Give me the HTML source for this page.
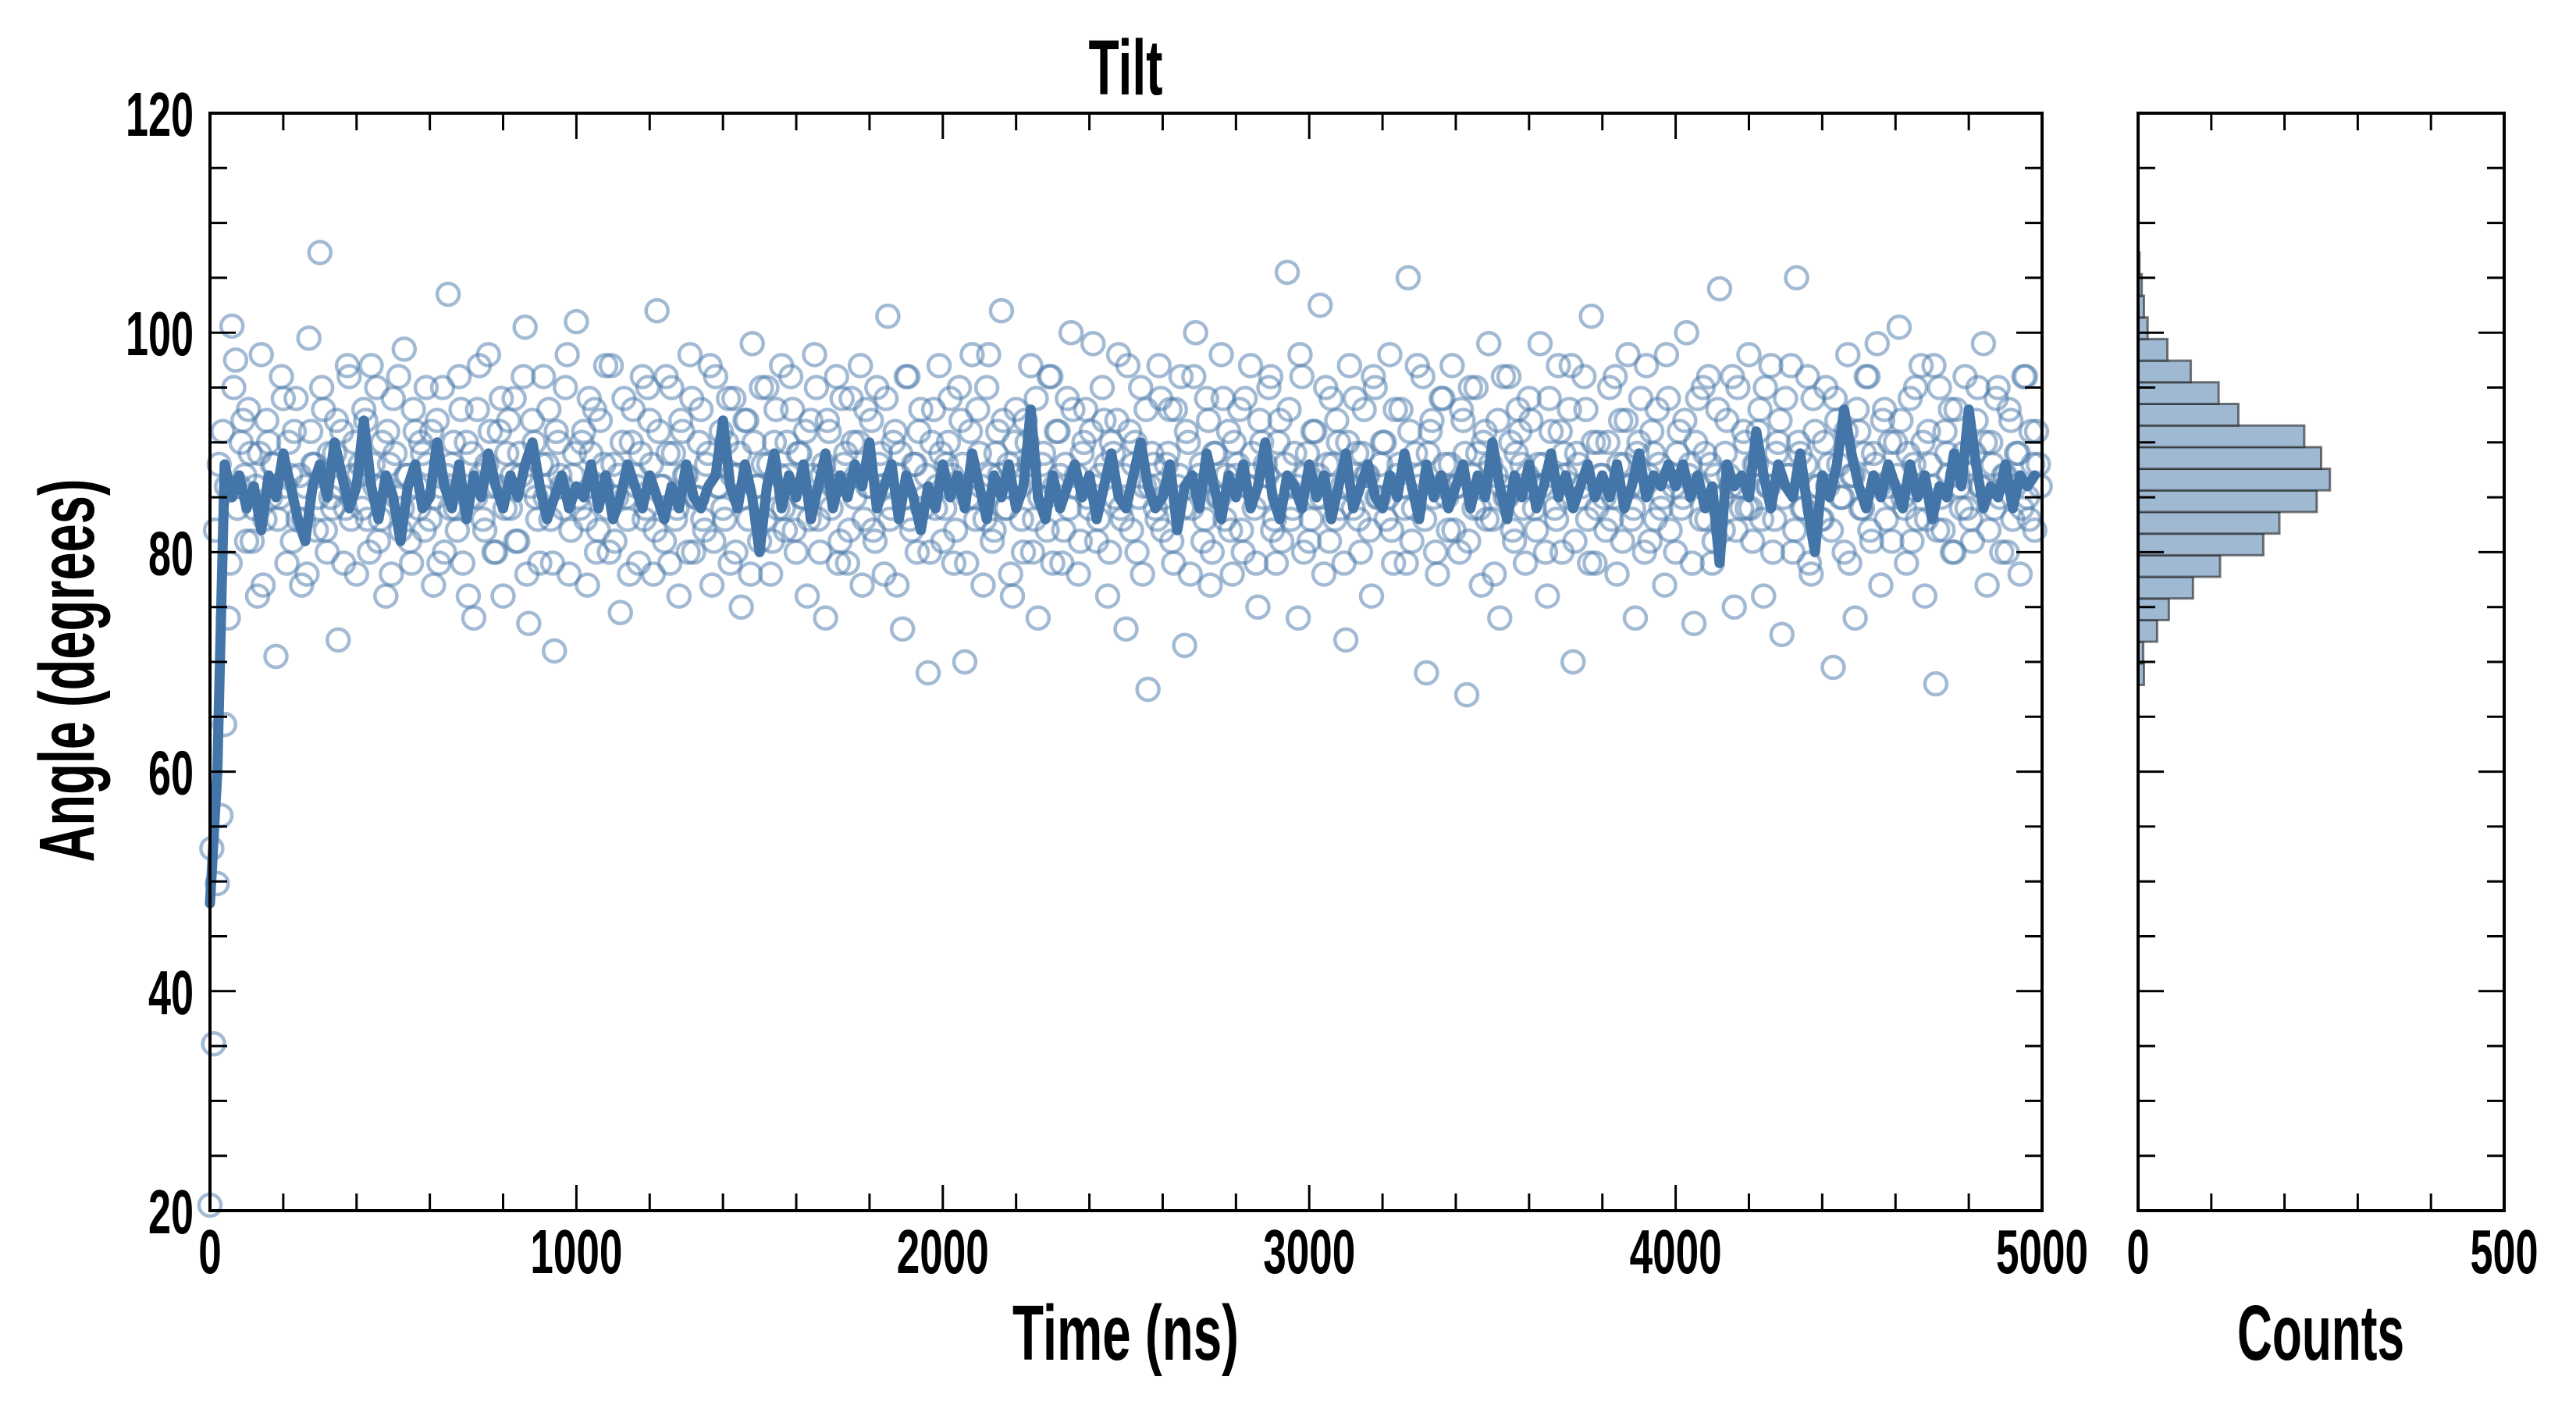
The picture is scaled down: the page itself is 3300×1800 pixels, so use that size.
<!DOCTYPE html>
<html><head><meta charset="utf-8"><style>
html,body{margin:0;padding:0;background:#fff;}
svg{display:block;}
text{font-family:"Liberation Sans Narrow","Liberation Sans",sans-serif;font-weight:bold;fill:#000;}
</style></head><body>
<svg id="chart" width="3300" height="1800" viewBox="0 0 3300 1800" xmlns="http://www.w3.org/2000/svg">
<rect x="0" y="0" width="3300" height="1800" fill="#fff"/>
<g id="scatter"></g>
<g id="line"></g>
<g id="hist"></g>
<g id="axes"></g>
<text x="1442" y="121" font-size="100" text-anchor="middle" textLength="95" lengthAdjust="spacingAndGlyphs">Tilt</text>
<text x="1442" y="1742" font-size="100" text-anchor="middle" textLength="290" lengthAdjust="spacingAndGlyphs">Time (ns)</text>
<text x="2973" y="1742" font-size="100" text-anchor="middle" textLength="214" lengthAdjust="spacingAndGlyphs">Counts</text>
<text x="0" y="0" font-size="100" text-anchor="middle" textLength="491" lengthAdjust="spacingAndGlyphs" transform="translate(120,859) rotate(-90)">Angle (degrees)</text>
</svg>
<script>
const scatterStep = 10;
const scatterValues = [
20.5,35.2,49.8,56,64.3,74,100.6,97.5,86,92,81,89,84,76,98,83,90,88,70.5,85,
94,79,87,91,83,77,86,99.5,88,82,107.3,93,80,85,89,72,91,84,96,87,
78,88,93,83,97,86,81,90,76,88,94,85,82,98.5,87,79,91,84,89,95,
83,77,92,86,80,103.5,88,84,96,79,90,85,74,93,87,82,98,86,80,91,
76,89,84,94,81,87,100.5,73.5,92,85,79,96,88,83,71,90,86,95,78,87,
101,84,91,77,89,93,82,86,97,80,88,85,74.5,94,83,90,87,79,96,84,
92,78,102,86,81,89,95,83,76,91,87,98,80,85,93,82,89,77,96,86,
84,90,79,94,87,75,92,83,99,86,81,88,95,78,90,84,97,82,87,93,
80,89,85,76,92,98,83,87,74,91,86,96,81,88,79,94,85,90,77,93,
86,82,95,89,78,101.5,84,91,87,73,96,83,88,80,93,85,69,90,84,97,
81,88,94,79,86,92,70,85,98,83,89,77,95,87,82,91,102,84,88,76,
93,86,80,90,97,83,74,88,85,96,79,91,87,82,94,100,86,78,89,93,
84,99,81,87,92,76,90,85,98,83,73,91,88,80,95,86,67.5,89,84,97,
82,88,93,79,86,96,71.5,90,84,100,87,81,94,77,89,85,98,83,91,78,
87,93,80,86,97,84,75,90,88,95,82,79,92,86,105.5,83,89,74,96,87,
81,91,85,102.5,78,88,94,83,90,86,72,97,84,89,80,93,87,76,95,85,
90,83,98,79,87,93,84,105,81,89,86,96,69,91,85,78,94,88,82,97,
86,80,92,67,95,84,89,77,91,99,83,87,74,96,85,90,81,93,88,79,
94,86,82,99,88,76,91,84,97,80,87,93,70,89,85,96,83,101.5,79,90,
87,82,95,85,78,92,88,98,83,74,90,86,97,81,89,93,84,77,94,87,
80,91,85,100,88,73.5,94,83,89,96,79,87,104,82,92,86,75,95,84,90,
98,81,88,93,76,86,97,83,90,72.5,94,87,80,105,89,84,96,78,91,86,
83,95,88,69.5,92,85,80,98,87,74,91,84,96,82,89,99,77,93,86,81,
90,100.5,85,79,94,88,83,97,76,91,86,68,95,82,89,93,80,87,84,96,
88,81,92,86,99,77,90,84,95,80,87,93,83,89,78,96,85,91,82,88];
const scatterOffset2 = 5;
const scatterValues2 = [
53,82,88,91,86,79,95,84,90,87,93,81,86,89,77,92,85,88,83,96,
86,90,81,94,87,83,78,91,88,85,95,82,89,84,92,86,79,97,83,90,
87,84,92,80,88,95,83,86,91,78,89,96,84,87,81,93,86,90,82,88,
91,85,79,95,87,84,90,82,93,86,76,89,85,97,83,88,91,80,86,94,
84,92,87,81,89,96,78,86,90,83,88,85,93,79,91,87,84,98,82,89,
85,90,83,94,86,80,92,88,84,97,81,87,90,85,78,93,86,89,83,95,
88,82,91,86,96,79,89,84,92,87,80,94,85,90,83,88,97,81,86,91,
83,94,87,80,89,85,92,78,90,86,95,83,88,81,93,87,84,90,96,82,
89,85,91,83,87,95,80,88,92,84,86,79,94,89,82,90,87,97,83,86,
92,81,88,86,94,83,90,77,89,85,96,82,88,91,84,87,80,93,86,89,
84,90,87,82,95,88,79,91,85,93,86,83,98,81,89,87,92,84,78,90,
87,83,92,88,80,94,85,89,82,96,86,91,79,88,84,93,87,81,90,85,
91,86,83,95,88,80,89,92,84,87,97,82,90,85,78,93,86,88,83,94,
85,89,81,93,87,84,91,78,96,86,88,83,92,80,89,85,94,87,82,90,
88,82,94,86,89,79,92,85,87,96,83,90,81,88,93,84,86,98,80,89,
83,91,87,85,95,81,88,92,84,79,90,86,94,83,89,87,82,96,85,88,
90,85,82,93,88,86,79,91,84,97,87,83,89,92,80,86,94,85,88,82,
86,93,89,81,87,95,84,90,83,88,78,92,86,85,96,82,89,91,84,87,
92,84,88,86,80,94,87,83,91,89,85,97,81,88,86,93,79,90,84,87,
85,90,83,96,88,81,92,86,84,89,94,80,87,91,83,88,85,98,82,86,
89,84,92,87,79,90,86,95,83,88,81,93,85,89,87,96,82,86,91,84,
84,88,91,83,95,86,80,89,92,85,87,97,82,90,84,88,79,94,86,83,
90,86,82,94,88,85,91,79,87,93,84,89,96,81,88,86,92,83,90,85,
87,92,84,89,81,95,86,90,83,88,97,82,85,91,87,80,93,86,89,84,
83,89,95,86,90,82,88,94,85,87,80,92,86,89,84,96,83,88,91,86];
const lineStep = 20;
const lineValues = [
48,60,88,85,87,84,86,82,87,85,
89,86,83,81,86,88,85,90,87,84,
86,92,86,83,87,85,81,86,88,84,
85,90,86,84,88,83,87,85,89,86,
84,87,85,88,90,86,83,85,87,84,
86,85,88,84,87,83,85,88,86,84,
87,85,83,86,84,88,85,84,86,87,
92,86,84,88,85,80,86,89,84,87,
85,88,83,86,89,84,87,85,88,86,
90,84,86,88,83,87,85,82,86,84,
88,85,87,84,89,86,83,87,85,88,
84,86,93,85,83,87,84,86,88,85,
87,83,86,89,85,84,87,90,86,84,
85,88,82,86,87,84,89,86,83,87,
85,88,84,86,90,85,83,87,86,84,
88,85,87,83,86,89,84,86,88,85,
84,87,85,89,86,83,88,85,87,84,
86,88,84,87,85,90,86,83,87,85,
88,84,86,89,85,87,84,86,88,85,
87,85,88,84,86,89,85,87,86,88,
86,88,85,87,84,86,79,88,86,87,
85,91,87,84,88,86,85,89,84,80,
87,85,88,93,89,86,84,87,85,88,
86,84,88,85,87,83,86,85,89,86,
93,88,84,86,85,88,84,87,86,87];
const histStart = 67.9;
const histBinWidth = 1.97;
const histCounts = [8,7,26,42,75,112,171,193,244,262,250,227,137,110,72,40,13,8,5,2];
const xTicks = [0,1000,2000,3000,4000,5000];
const yTicks = [20,40,60,80,100,120];
const countTicks = [0,500];

const NS = "http://www.w3.org/2000/svg";
const M = {l:269, r:2616, t:145, b:1551};
const H = {l:2739, r:3208};
const xS = v => M.l + (v/5000)*(M.r-M.l);
const yS = v => M.b - ((v-20)/100)*(M.b-M.t);
const cS = v => H.l + (v/500)*(H.r-H.l);
function mk(tag, attrs, parent){const e=document.createElementNS(NS,tag);for(const k in attrs)e.setAttribute(k,attrs[k]);parent.appendChild(e);return e;}

const gS = document.getElementById('scatter');
function drawPoint(t,v){
  const c = mk('circle',{cx:xS(t),cy:yS(v),r:14,fill:'none',stroke:'#4575a8','stroke-opacity':0.5,'stroke-width':4.5},gS);
  
  
}
scatterValues.forEach((v,i)=>drawPoint(i*scatterStep,v));
scatterValues2.forEach((v,i)=>drawPoint(i*scatterStep+scatterOffset2,v));

const gL = document.getElementById('line');
const pts = lineValues.map((v,i)=>xS(i*lineStep).toFixed(1)+','+yS(v).toFixed(1)).join(' ');
const pl = mk('polyline',{points:pts,fill:'none',stroke:'#4475a8','stroke-width':13,'stroke-linejoin':'round','stroke-linecap':'round'},gL);



const gH = document.getElementById('hist');
histCounts.forEach((c,i)=>{
  const y0 = yS(histStart + (i+1)*histBinWidth), y1 = yS(histStart + i*histBinWidth);
  const r = mk('rect',{x:H.l,y:y0,width:cS(c)-H.l,height:y1-y0,fill:'#a0b9d3',stroke:'#222','stroke-opacity':0.6,'stroke-width':3},gH);
  
  
});

const gA = document.getElementById('axes');
function frame(l,r,t,b,name){
  const f = mk('rect',{x:l,y:t,width:r-l,height:b-t,fill:'none',stroke:'#000','stroke-width':4},gA);
  
  
}
frame(M.l,M.r,M.t,M.b,'main-plot-frame');
frame(H.l,H.r,M.t,M.b,'hist-plot-frame');
function tick(x1,y1,x2,y2){const t=mk('line',{x1:x1,y1:y1,x2:x2,y2:y2,stroke:'#000','stroke-width':3},gA);}
for(let v=20; v<=120; v+=5){
  const y=yS(v), len=(v%20===0)?33:22;
  tick(M.l,y,M.l+len,y); tick(M.r,y,M.r-len,y);
  tick(H.l,y,H.l+len,y); tick(H.r,y,H.r-len,y);
}
for(let v=0; v<=5000; v+=200){
  const x=xS(v), len=(v%1000===0)?33:22;
  tick(x,M.b,x,M.b-len); tick(x,M.t,x,M.t+len);
}
for(let v=0; v<=500; v+=100){
  const x=cS(v);
  tick(x,M.b,x,M.b-22); tick(x,M.t,x,M.t+22);
}
function label(txt,x,y,anchor,w,name){
  const t=mk('text',{x:x,y:y,'font-size':80,'text-anchor':anchor,textLength:w,lengthAdjust:'spacingAndGlyphs'},gA);
  t.textContent=txt;
  
  
}
yTicks.forEach(v=>label(String(v),248,yS(v)+29,'end',String(v).length*29,'y-tick-label'));
xTicks.forEach(v=>label(String(v),xS(v),1631,'middle',String(v).length*29.5,'x-tick-label'));
countTicks.forEach(v=>label(String(v),cS(v),1631,'middle',String(v).length*29,'count-tick-label'));
</script>
</body></html>
